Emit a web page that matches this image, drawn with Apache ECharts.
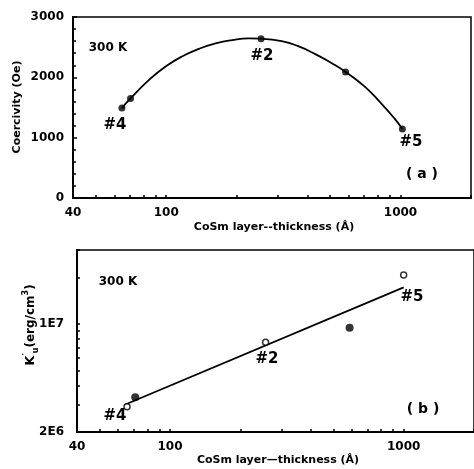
<!DOCTYPE html>
<html>
<head>
<meta charset="utf-8">
<script src="https://cdn.jsdelivr.net/npm/echarts@6/dist/echarts.min.js"></script>
<style>html,body{margin:0;padding:0;background:#fff}#c{width:474px;height:469px}</style>
</head>
<body>
<div id="c"></div>
<script>
// ---- data ----
// panel (a): coercivity vs thickness
const thicknessA = [64.7, 70.4, 254, 583, 1019];
const coercivity = [1490, 1650, 2640, 2090, 1145];
// guide curve drawn through the points
const curveX = [64.7, 70.4, 84.7, 99.7, 117.3, 138, 162.4, 191, 224.8, 254, 311, 366, 431, 507, 583, 702, 825, 940, 1019];
const curveY = [1490, 1650, 1962, 2183, 2350, 2473, 2562, 2617, 2645, 2640, 2600, 2517, 2388, 2238, 2090, 1850, 1573, 1323, 1145];
// panel (b): K'u vs thickness
const openX = [65.5, 256.5, 1000];
const openK = [2.91e6, 7.59e6, 2.07e7];
const filledX = [71.0, 587];
const filledK = [3.35e6, 9.43e6];
const fitX = [64, 1000];
const fitK = [3.0e6, 1.72e7];
// axis ticks / labels
const xLabels = [40, 100, 1000];
const xTicks = [40, 50, 60, 70, 80, 90, 100, 200, 300, 400, 500, 600, 700, 800, 900, 1000, 2000];
const yBLabels = [2e6, 1e7];
const yBTicks = [2e6, 3e6, 4e6, 5e6, 6e6, 7e6, 8e6, 9e6, 1e7, 2e7, 3e7];
const labelsA = ['#4', '#2', '#5'];
const labelsB = ['#4', '#2', '#5'];

const zip = (a, b) => a.map((v, i) => [v, b[i]]);
const F = 'DejaVu Sans';
const axisLine = {show: true, onZero: false, lineStyle: {color: '#000', width: 2}};
const lblStyle = {color: '#000', fontFamily: F, fontWeight: 'bold', fontSize: 12};
const tickStyle = {color: '#000', width: 1.5};

function xAxisFor(gi) {
  return {
    type: 'log', logBase: 10, min: 40, max: 2000, gridIndex: gi,
    axisLine: axisLine,
    axisTick: {show: true, inside: true, length: 3, customValues: xTicks, lineStyle: tickStyle},
    axisLabel: Object.assign({customValues: xLabels, margin: 9, formatter: v => String(Math.round(v))}, lblStyle),
    splitLine: {show: false}, minorTick: {show: false}
  };
}

const chart = echarts.init(document.getElementById('c'), null, {renderer: 'canvas'});
const txt = (x, y, s, size, extra) => Object.assign({
  type: 'text', x: x, y: y, z: 100,
  style: Object.assign({text: s, fill: '#000', font: 'bold ' + size + 'px "' + F + '"', textAlign: 'center', textVerticalAlign: 'middle'}, extra || {})
});

chart.setOption({
  animation: false,
  backgroundColor: '#fff',
  grid: [
    {left: 73, top: 17, width: 398, height: 181, show: true, borderColor: '#000', borderWidth: 1.5, backgroundColor: 'transparent'},
    {left: 77, top: 250, width: 400, height: 182, show: true, borderColor: '#000', borderWidth: 1.5, backgroundColor: 'transparent'}
  ],
  xAxis: [xAxisFor(0), xAxisFor(1)],
  yAxis: [
    {
      type: 'value', min: 0, max: 3000, interval: 1000, gridIndex: 0,
      axisLine: axisLine,
      axisTick: {show: true, inside: true, length: 4, lineStyle: tickStyle},
      minorTick: {show: true, splitNumber: 5, length: 3, lineStyle: tickStyle},
      axisLabel: Object.assign({margin: 9, formatter: v => String(v)}, lblStyle),
      splitLine: {show: false}
    },
    {
      type: 'log', logBase: 10, min: 2e6, max: 3e7, gridIndex: 1,
      axisLine: axisLine,
      axisTick: {show: true, inside: true, length: 3, customValues: yBTicks, lineStyle: tickStyle},
      axisLabel: Object.assign({customValues: yBLabels, margin: 13, formatter: v => (Math.abs(v - 1e7) < 1 ? '1E7' : '2E6')}, lblStyle),
      splitLine: {show: false}
    }
  ],
  series: [
    {type: 'line', xAxisIndex: 0, yAxisIndex: 0, data: zip(curveX, curveY), smooth: 0.5, showSymbol: false, symbol: 'none',
     lineStyle: {color: '#000', width: 1.8}},
    {type: 'scatter', xAxisIndex: 0, yAxisIndex: 0, data: zip(thicknessA, coercivity), symbolSize: 7,
     itemStyle: {color: '#000'}},
    {type: 'line', xAxisIndex: 1, yAxisIndex: 1, data: zip(fitX, fitK), showSymbol: false, symbol: 'none',
     lineStyle: {color: '#000', width: 1.8}},
    {type: 'scatter', xAxisIndex: 1, yAxisIndex: 1, data: zip(openX, openK), symbolSize: 6,
     itemStyle: {color: '#fff', borderColor: '#000', borderWidth: 1.5}, z: 5},
    {type: 'scatter', xAxisIndex: 1, yAxisIndex: 1, data: zip(filledX, filledK), symbolSize: 8,
     itemStyle: {color: '#000'}}
  ],
  graphic: [
    txt(108, 48, '300 K', 12),
    txt(115, 125, labelsA[0], 15),
    txt(262, 56, labelsA[1], 15),
    txt(411, 142, labelsA[2], 15),
    txt(422, 174, '( a )', 14),
    txt(274, 227, 'CoSm layer--thickness (Å)', 11),
    Object.assign(txt(17, 107, 'Coercivity (Oe)', 11), {rotation: Math.PI / 2}),
    txt(118, 282, '300 K', 12),
    txt(115, 416, labelsB[0], 15),
    txt(267, 359, labelsB[1], 15),
    txt(412, 297, labelsB[2], 15),
    txt(423, 409, '( b )', 14),
    txt(278, 460, 'CoSm layer—thickness (Å)', 11),
    {type: 'text', x: 31, y: 325, rotation: Math.PI / 2, z: 100,
     style: {
       text: '{k|K}{p|′}{u|u}{n|(erg/cm}{s|3}{n|)}',
       fill: '#000', textAlign: 'center', textVerticalAlign: 'middle',
       rich: {
         k: {fontFamily: F, fontWeight: 'bold', fontSize: 13, lineHeight: 18, verticalAlign: 'middle'},
         p: {fontFamily: F, fontWeight: 'bold', fontSize: 9, lineHeight: 18, verticalAlign: 'top'},
         u: {fontFamily: F, fontWeight: 'bold', fontSize: 8, lineHeight: 18, verticalAlign: 'bottom'},
         n: {fontFamily: F, fontWeight: 'bold', fontSize: 12, lineHeight: 18, verticalAlign: 'middle'},
         s: {fontFamily: F, fontWeight: 'bold', fontSize: 8, lineHeight: 18, verticalAlign: 'top'}
       }
     }}
  ]
});
</script>
</body>
</html>
